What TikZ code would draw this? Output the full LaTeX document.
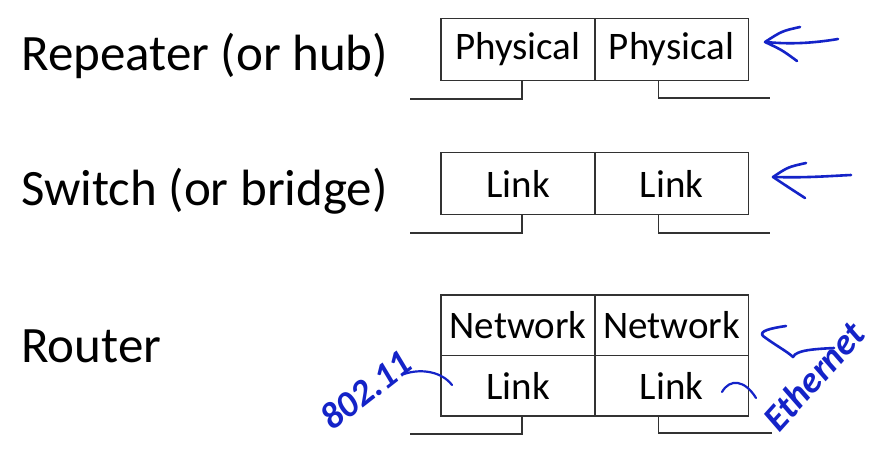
\documentclass[tikz,border=0pt]{standalone}
\usepackage{fontspec}
\setmainfont{Carlito}
\definecolor{inkblue}{RGB}{20,35,200}
\definecolor{boxline}{RGB}{50,50,50}
\begin{document}
\begin{tikzpicture}[x=1pt,y=-1pt,
  layer/.style={draw=boxline, line width=1.3pt, minimum width=154pt, minimum height=62pt, inner sep=0pt, font=\fontsize{39}{39}\selectfont},
  rowlabel/.style={anchor=west, inner sep=0pt, font=\fontsize{51}{51}\selectfont},
  wire/.style={draw=boxline, line width=1.3pt},
  ink/.style={draw=inkblue, line width=2.6pt, line cap=round, line join=round},
  hand/.style={text=inkblue, inner sep=0pt, font=\fontsize{37}{37}\selectfont\bfseries\itshape}]
\useasboundingbox[fill=white] (0,0) rectangle (886,450);

% row labels
\node[rowlabel] (rep) at (21,56) {Repeater (or hub)};
\node[rowlabel] (sw) at (21,191) {Switch (or bridge)};
\node[rowlabel] (rt) at (21,346) {Router};

% repeater
\node[layer] (p1) at (518,49.5) {Physical};
\node[layer] (p2) at (671.5,49.5) {Physical};
\coordinate (pa) at (410,99);
\coordinate (pb) at (770,98);
\draw[wire] ([xshift=4]p1.south) |- (pa);
\draw[wire] ([xshift=-13]p2.south) |- (pb);

% switch
\node[layer] (l1) at (518,183.5) {Link};
\node[layer] (l2) at (671.5,183.5) {Link};
\coordinate (la) at (410,233);
\coordinate (lb) at (770,233);
\draw[wire] ([xshift=4]l1.south) |- (la);
\draw[wire] ([xshift=-13]l2.south) |- (lb);

% router
\node[layer, minimum height=60.5pt] (n1) at (518,325.25) {Network};
\node[layer, minimum height=60.5pt] (n2) at (671.5,325.25) {Network};
\node[layer, minimum height=60.5pt] (k1) at (518,385.75) {Link};
\node[layer, minimum height=60.5pt] (k2) at (671.5,385.75) {Link};
\coordinate (ka) at (410,434);
\coordinate (kb) at (772,433);
\draw[wire] ([xshift=4]k1.south) |- (ka);
\draw[wire] ([xshift=-13]k2.south) |- (kb);

% handwritten arrows
\draw[ink] (800,27) .. controls (782,31) .. (765,42) .. controls (782,50) .. (797,61);
\draw[ink] (766,42) .. controls (795,45) and (820,42) .. (838,39);
\draw[ink] (806,163) .. controls (788,167) .. (773,177) .. controls (788,187) .. (805,198);
\draw[ink] (775,177) .. controls (805,178) and (830,176) .. (851,175);
\draw[ink] (786,326) .. controls (772,328) and (758,331) .. (763,336) .. controls (775,345) and (788,352) .. (793,357) .. controls (796,350) and (815,349) .. (834,348);

% handwritten annotations
\node[hand, rotate=38] (wifi) at (366,390) {802.11};
\draw[ink, line width=2.2pt] (404,374) .. controls (422,368) and (442,372) .. (452,385);
\node[hand, rotate=48] (eth) at (814,376) {Ethernet};
\draw[ink, line width=2.2pt] (722,392) .. controls (730,378) and (745,380) .. (756,398);
\end{tikzpicture}
\end{document}
